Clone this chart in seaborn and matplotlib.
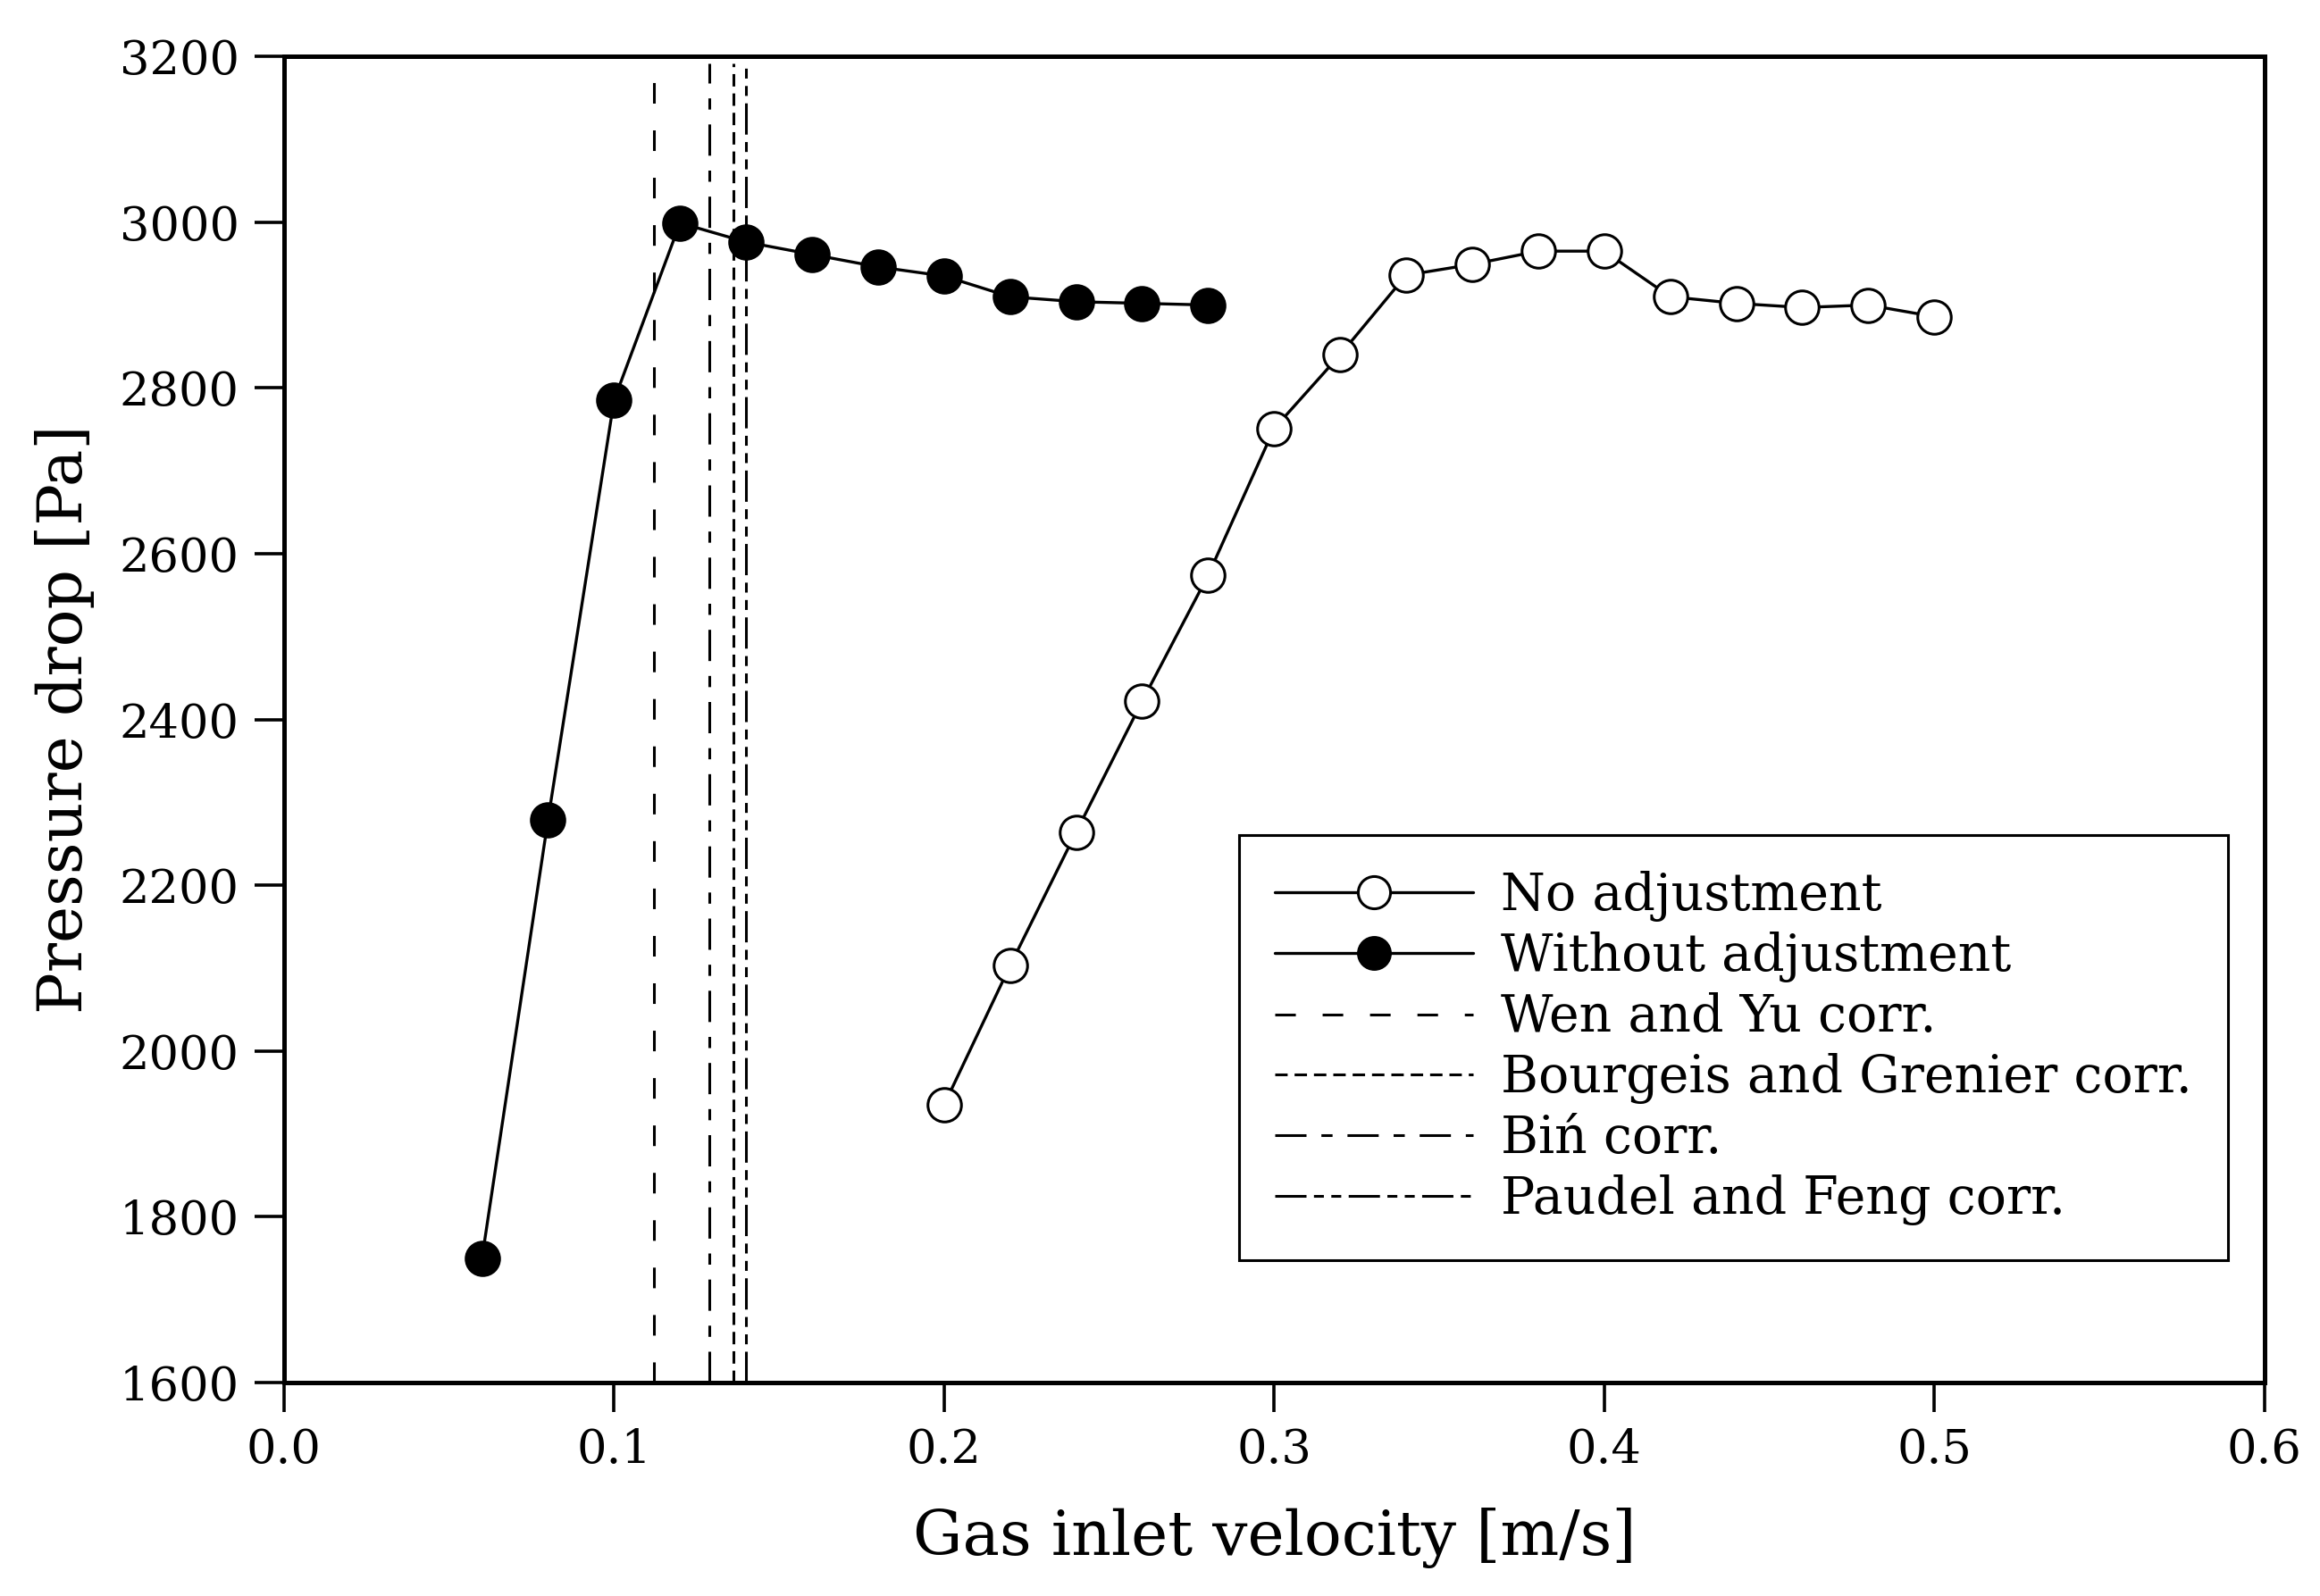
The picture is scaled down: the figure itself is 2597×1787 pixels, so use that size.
import matplotlib
matplotlib.use("Agg")
import matplotlib.pyplot as plt
import seaborn as sns
import pandas as pd
from matplotlib.lines import Line2D

# ---- data ----
x_with = [0.06, 0.08, 0.10, 0.12, 0.14, 0.16, 0.18, 0.20, 0.22, 0.24, 0.26, 0.28]
y_with = [1750, 2279, 2785, 2999, 2976, 2961, 2946, 2935, 2910, 2904, 2902, 2900]

x_no = [0.20, 0.22, 0.24, 0.26, 0.28, 0.30, 0.32, 0.34, 0.36, 0.38, 0.40, 0.42, 0.44, 0.46, 0.48, 0.50]
y_no = [1935, 2103, 2264, 2422, 2574, 2751, 2840, 2936, 2949, 2965, 2965, 2910, 2902, 2897, 2900, 2886]

corr_names = ["Wen and Yu corr.", "Bourgeis and Grenier corr.", "Biń corr.", "Paudel and Feng corr."]
corr_values = [0.112, 0.1363, 0.129, 0.1401]

x_ticks = [0.0, 0.1, 0.2, 0.3, 0.4, 0.5, 0.6]
y_ticks = [1600, 1800, 2000, 2200, 2400, 2600, 2800, 3000, 3200]

# ---- style ----
sns.set_style("ticks")
plt.rcParams['font.family'] = ['DejaVu Serif']
plt.rcParams['lines.scale_dashes'] = False
plt.rcParams['text.color'] = 'black'
plt.rcParams['axes.labelcolor'] = 'black'
plt.rcParams['xtick.color'] = 'black'
plt.rcParams['ytick.color'] = 'black'

fig = plt.figure(figsize=(12.985, 8.935), dpi=200)
ax = fig.add_axes([0.1224, 0.1337, 0.8536, 0.831])

df_no = pd.DataFrame({"x": x_no, "y": y_no})
df_with = pd.DataFrame({"x": x_with, "y": y_with})

sns.lineplot(data=df_no, x="x", y="y", ax=ax, color="black", lw=1.2,
             marker="o", markersize=13.5, markerfacecolor="white",
             markeredgecolor="black", markeredgewidth=1.1, zorder=3)
sns.lineplot(data=df_with, x="x", y="y", ax=ax, color="black", lw=1.2,
             marker="o", markersize=13.5, markerfacecolor="black",
             markeredgecolor="black", markeredgewidth=1.1, zorder=3)

dash_styles = {
    "Wen and Yu corr.": (0, (8.3, 10.8)),
    "Bourgeis and Grenier corr.": (0, (5.0, 2.8)),
    "Biń corr.": (0, (12.6, 6.0, 4.5, 6.0)),
    "Paudel and Feng corr.": (0, (12.6, 3.0, 4.0, 3.0, 4.0, 3.0)),
}
for name, v in zip(corr_names, corr_values):
    ax.axvline(v, ymin=0, ymax=0.995, color="black", lw=1.1, linestyle=dash_styles[name], zorder=2)

ax.set_xlim(0.0, 0.6)
ax.set_ylim(1600, 3200)
ax.set_xticks(x_ticks)
ax.set_xticklabels([f"{t:.1f}" for t in x_ticks])
ax.set_yticks(y_ticks)
ax.tick_params(axis="both", which="major", direction="out", length=12, width=1.3,
               labelsize=19, top=False, right=False, pad=6, colors="black")
for sp in ax.spines.values():
    sp.set_linewidth(1.8)
    sp.set_color("black")
    sp.set_visible(True)

ax.set_xlabel("Gas inlet velocity [m/s]", fontsize=25, labelpad=14)
ax.set_ylabel("Pressure drop [Pa]", fontsize=25, labelpad=10)

handles = [
    Line2D([], [], color="black", lw=1.2, marker="o", markersize=13,
           markerfacecolor="white", markeredgecolor="black", markeredgewidth=1.1),
    Line2D([], [], color="black", lw=1.2, marker="o", markersize=13,
           markerfacecolor="black", markeredgecolor="black"),
]
labels = ["No adjustment", "Without adjustment"]
for name in ["Wen and Yu corr.", "Bourgeis and Grenier corr.", "Biń corr.", "Paudel and Feng corr."]:
    handles.append(Line2D([], [], color="black", lw=1.1, linestyle=dash_styles[name]))
    labels.append(name)

leg = ax.legend(handles, labels, loc="lower right", bbox_to_anchor=(0.9815, 0.092),
                fontsize=20.5, frameon=True, fancybox=False, framealpha=1,
                edgecolor="black", handlelength=3.9, handletextpad=0.55,
                borderpad=0.7, labelspacing=0.2, borderaxespad=0)
leg.get_frame().set_linewidth(1.1)

fig.savefig("out.png", dpi=200)
